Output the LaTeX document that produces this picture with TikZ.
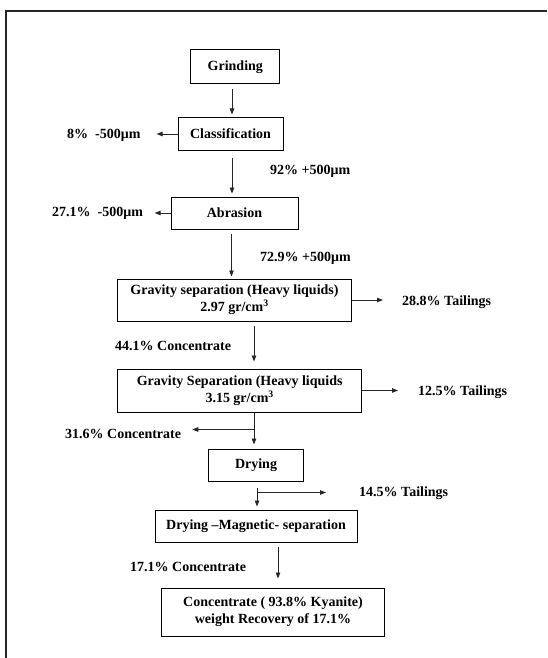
\documentclass[tikz,border=0pt]{standalone}
\usepackage{fontspec}
\setmainfont{Liberation Serif}
\usetikzlibrary{arrows.meta,calc}
\tikzset{
  procbox/.style={draw=black, line width=1pt, inner sep=0pt, align=center,
    font=\fontsize{14}{17}\selectfont\bfseries},
  lbl/.style={anchor=base west, inner sep=0pt, font=\fontsize{14}{17}\selectfont\bfseries},
  arr/.style={draw=black!85, line width=0.9pt, -{Triangle[length=6pt,width=4.5pt]}},
  ln/.style={draw=black!85, line width=0.9pt},
}
\begin{document}
\begin{tikzpicture}[x=1pt,y=-1pt]
\useasboundingbox (0,0) rectangle (547,658);
\draw[line width=1.3pt, black!85] (6,658) -- (6,11) -- (547,11);

% boxes
\node[procbox, minimum width=89pt, minimum height=34pt] (g) at (235.3,67) {Grinding};
\node[procbox, minimum width=105pt, minimum height=32pt] (c) at (230.5,134) {Classification};
\node[procbox, minimum width=127pt, minimum height=32pt] (a) at (234.5,213) {Abrasion};
\node[procbox, minimum width=234pt, minimum height=42pt] (gs1) at (234.5,300) {Gravity separation (Heavy liquids)\\2.97 gr/cm\textsuperscript{3}};
\node[procbox, minimum width=244pt, minimum height=43pt] (gs2) at (239.7,390.5) {Gravity Separation (Heavy liquids\\3.15 gr/cm\textsuperscript{3}};
\node[procbox, minimum width=95pt, minimum height=32pt] (dry) at (256,465) {Drying};
\node[procbox, minimum width=202pt, minimum height=32pt] (mag) at (256,526) {Drying --Magnetic- separation};
\node[procbox, minimum width=223pt, minimum height=48pt] (fin) at (273,612) {Concentrate ( 93.8\% Kyanite)\\weight Recovery of 17.1\%};

% labels
\node[lbl] (t8) at (67,139) {8\%\ \ -500μm};
\node[lbl] (t92) at (270,174) {92\% +500μm};
\node[lbl] (t271) at (52,216) {27.1\%\ \ -500μm};
\node[lbl] (t729) at (260,261) {72.9\% +500μm};
\node[lbl] (t288) at (402,305) {28.8\% Tailings};
\node[lbl] (t441) at (115,350) {44.1\% Concentrate};
\node[lbl] (t125) at (418,395) {12.5\% Tailings};
\node[lbl] (t316) at (65,438) {31.6\% Concentrate};
\node[lbl] (t145) at (359,496) {14.5\% Tailings};
\node[lbl] (t171) at (130,571) {17.1\% Concentrate};

% main flow
\draw[arr, shorten <=5pt, shorten >=3pt] ([xshift=-3.3pt]g.south) -- ([xshift=-3.3pt]g.south |- c.north);
\draw[arr, shorten <=7pt, shorten >=3pt] ([xshift=1.5pt]c.south) -- ([xshift=1.5pt]c.south |- a.north);
\draw[arr, shorten <=4pt, shorten >=2pt] ([xshift=-3pt]a.south) -- ([xshift=-3pt]a.south |- gs1.north);
\draw[arr, shorten <=4pt, shorten >=7pt] ([xshift=19.5pt]gs1.south) -- ([xshift=19.5pt]gs1.south |- gs2.north);
\coordinate (b1) at ($([xshift=14.3pt]gs2.south)+(0,17)$);
\draw[arr, shorten >=4pt] ([xshift=14.3pt]gs2.south) -- (b1 |- dry.north);
\draw[arr, shorten >=11pt] (b1) -- (b1 -| t316.east);
\coordinate (b2) at ($([xshift=1pt]dry.south)+(0,11)$);
\draw[arr, shorten <=6pt, shorten >=3pt] ([xshift=1pt]dry.south) -- (b2 |- mag.north);
\draw[arr, shorten >=33pt] (b2) -- (b2 -| t145.west);
\draw[arr, shorten <=4pt, shorten >=9pt] ([xshift=22pt]mag.south) -- ([xshift=22pt]mag.south |- fin.north);

% side streams
\draw[arr, shorten >=16pt] (c.west) -- (c.west -| t8.east);
\draw[arr, shorten >=11.5pt] (a.west) -- (a.west -| t271.east);
\draw[arr, shorten >=19pt] (gs1.east) -- (gs1.east -| t288.west);
\draw[arr, shorten >=20pt] (gs2.east) -- (gs2.east -| t125.west);
\end{tikzpicture}
\end{document}
